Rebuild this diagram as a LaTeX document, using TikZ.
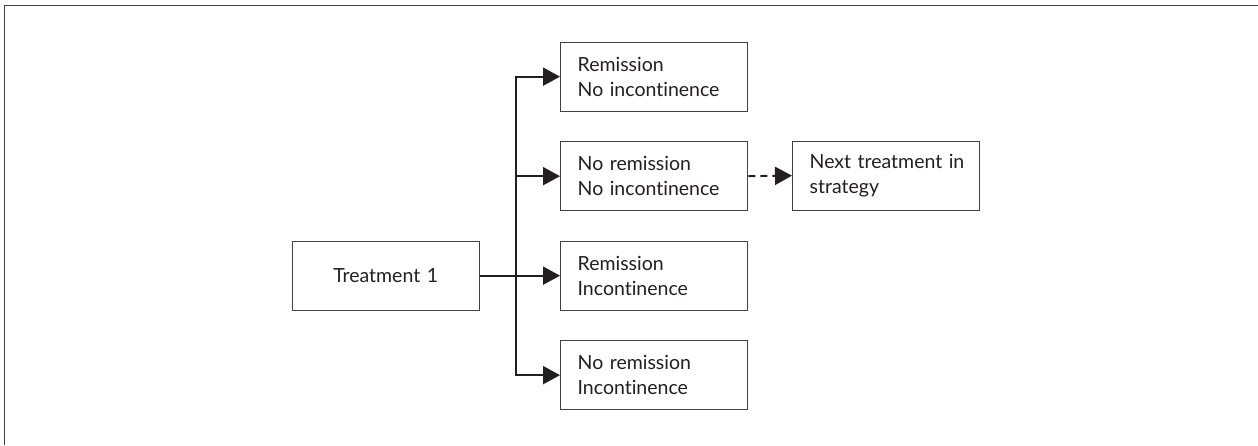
\documentclass[tikz,border=0pt]{standalone}
\usepackage{fontspec}
\setmainfont[Ligatures=NoCommon]{Lato}
\usetikzlibrary{arrows.meta}
\definecolor{ink}{HTML}{231F20}
\tikzset{
  box/.style={draw=ink!85, line width=1.3pt, rectangle, minimum width=187pt, minimum height=69pt,
    text width=153pt, inner xsep=17pt, inner ysep=0pt, align=left, anchor=north west,
    font=\fontsize{19.5}{25}\selectfont, text=ink},
  cbox/.style={box, align=center},
  arr/.style={draw=ink, line width=2pt, -{Triangle[length=17pt,width=18pt]}},
  frame/.style={draw=ink!85, line width=1.6pt}
}
\begin{document}
\begin{tikzpicture}[x=1pt,y=-1pt]
\useasboundingbox (0,0) rectangle (1258,445);
\draw[frame] (4.5,445) -- (4.5,5.5) -- (1258,5.5);
\node[cbox] (t) at (291.5,240.5) {Treatment 1};
\node[box] (b1) at (560,41.5) {Remission\\No incontinence};
\node[box] (b2) at (560,141) {No remission\\No incontinence};
\node[box] (b3) at (560,240.5) {Remission\\Incontinence};
\node[box] (b4) at (560,340) {No remission\\Incontinence};
\node[box] (n) at (792,140.5) {\mbox{Next treatment in}\\strategy};
\coordinate (j) at (516,275);
\draw[arr] (t.east) -- (b3.west);
\draw[arr] (j) |- (b1.west);
\draw[arr] (j) |- (b2.west);
\draw[arr] (j) |- (b4.west);
\draw[arr, dash pattern=on 7pt off 5pt] (b2.east) -- (n.west);
\end{tikzpicture}
\end{document}
